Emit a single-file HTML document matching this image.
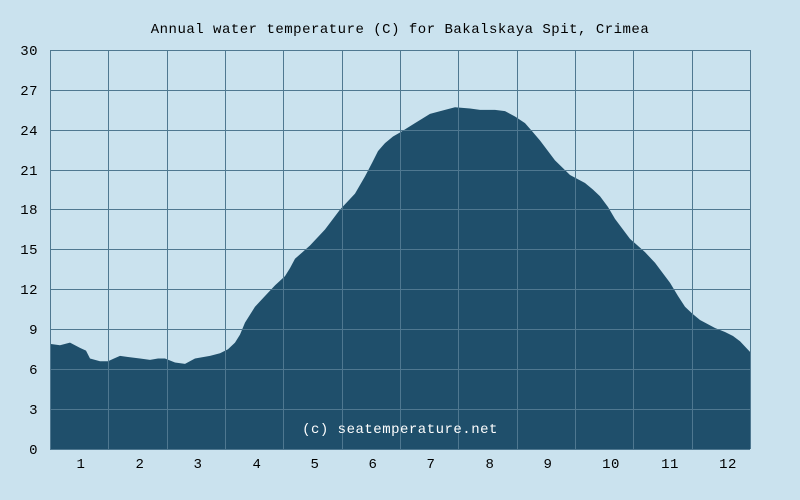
<!DOCTYPE html>
<html><head><meta charset="utf-8"><style>
html,body{margin:0;padding:0;background:#cae2ee;}
svg{display:block;}
text{font-family:"Liberation Mono",monospace;font-size:14px;fill:#000;letter-spacing:0.5px;}
</style></head><body>
<svg width="800" height="500" xmlns="http://www.w3.org/2000/svg">
<rect width="800" height="500" fill="#cae2ee"/>
<text x="400" y="33" text-anchor="middle">Annual water temperature (C) for Bakalskaya Spit, Crimea</text>
<g transform="translate(0,449) scale(1,-13.3)">
<polygon fill="#1f4f6b" points="50,0 50,7.9 60,7.8 70,8.0 80,7.6 86,7.4 90,6.8 100,6.6 108,6.6 114,6.8 120,7.0 130,6.9 140,6.8 150,6.7 158,6.8 165,6.8 175,6.5 185,6.4 195,6.8 210,7.0 220,7.2 228,7.5 235,8.0 240,8.6 245,9.5 255,10.7 265,11.5 275,12.3 285,13.0 290,13.6 295,14.3 310,15.3 325,16.5 340,18.0 355,19.2 365,20.5 372,21.5 378,22.4 385,23.0 393,23.5 400,23.8 415,24.5 430,25.2 445,25.5 455,25.7 470,25.6 480,25.5 495,25.5 505,25.4 515,25.0 525,24.5 532,23.9 540,23.2 555,21.7 570,20.6 585,20.0 593,19.5 600,19.0 608,18.2 615,17.3 630,15.8 645,14.8 655,14.0 662,13.3 670,12.5 678,11.5 685,10.7 692,10.2 700,9.7 715,9.1 725,8.8 733,8.5 740,8.1 750,7.3 750,0"/>
</g>
<g stroke="#4f7890" stroke-width="1">
<line x1="50" y1="449.5" x2="750" y2="449.5"/>
<line x1="50" y1="409.5" x2="750" y2="409.5"/>
<line x1="50" y1="369.5" x2="750" y2="369.5"/>
<line x1="50" y1="329.5" x2="750" y2="329.5"/>
<line x1="50" y1="289.5" x2="750" y2="289.5"/>
<line x1="50" y1="249.5" x2="750" y2="249.5"/>
<line x1="50" y1="209.5" x2="750" y2="209.5"/>
<line x1="50" y1="170.5" x2="750" y2="170.5"/>
<line x1="50" y1="130.5" x2="750" y2="130.5"/>
<line x1="50" y1="90.5" x2="750" y2="90.5"/>
<line x1="50" y1="50.5" x2="750" y2="50.5"/>
<line x1="50.5" y1="50" x2="50.5" y2="449"/>
<line x1="108.5" y1="50" x2="108.5" y2="449"/>
<line x1="167.5" y1="50" x2="167.5" y2="449"/>
<line x1="225.5" y1="50" x2="225.5" y2="449"/>
<line x1="283.5" y1="50" x2="283.5" y2="449"/>
<line x1="342.5" y1="50" x2="342.5" y2="449"/>
<line x1="400.5" y1="50" x2="400.5" y2="449"/>
<line x1="458.5" y1="50" x2="458.5" y2="449"/>
<line x1="517.5" y1="50" x2="517.5" y2="449"/>
<line x1="575.5" y1="50" x2="575.5" y2="449"/>
<line x1="633.5" y1="50" x2="633.5" y2="449"/>
<line x1="692.5" y1="50" x2="692.5" y2="449"/>
<line x1="750.5" y1="50" x2="750.5" y2="449"/>
</g>
<g text-anchor="end">
<text x="38" y="454">0</text>
<text x="38" y="414">3</text>
<text x="38" y="374">6</text>
<text x="38" y="334">9</text>
<text x="38" y="294">12</text>
<text x="38" y="254">15</text>
<text x="38" y="214">18</text>
<text x="38" y="175">21</text>
<text x="38" y="135">24</text>
<text x="38" y="95">27</text>
<text x="38" y="55">30</text>
</g>
<g text-anchor="middle">
<text x="81" y="468">1</text>
<text x="140" y="468">2</text>
<text x="198" y="468">3</text>
<text x="257" y="468">4</text>
<text x="315" y="468">5</text>
<text x="373" y="468">6</text>
<text x="431" y="468">7</text>
<text x="490" y="468">8</text>
<text x="548" y="468">9</text>
<text x="611" y="468">10</text>
<text x="670" y="468">11</text>
<text x="728" y="468">12</text>
<text x="400" y="433" style="fill:#fff">(c) seatemperature.net</text>
</g>
</svg>
</body></html>
